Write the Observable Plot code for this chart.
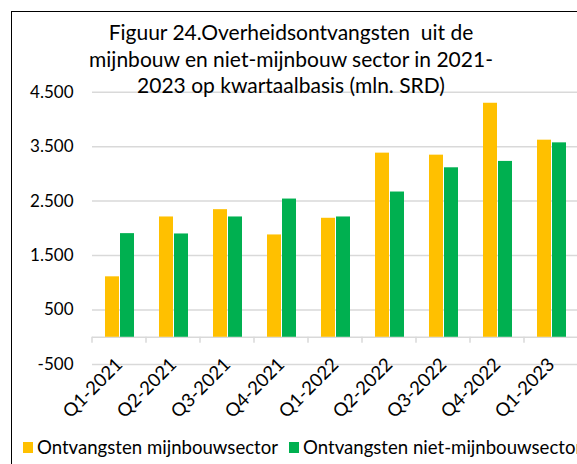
<!DOCTYPE html>
<html><head><meta charset="utf-8">
<script src="https://cdn.jsdelivr.net/npm/d3@7"></script>
<script src="https://cdn.jsdelivr.net/npm/@observablehq/plot@0.6"></script>
<style>
html,body{margin:0;padding:0;background:#fff;overflow:hidden;width:577px;height:464px;}
#wrap{position:relative;width:577px;height:464px;overflow:hidden;font-family:Lato,"Open Sans",sans-serif;color:#000;}
#border{position:absolute;left:11px;top:11px;width:640px;height:520px;border:1.5px solid #000;box-sizing:border-box;}
#chart{position:absolute;left:0;top:0;}
#title{position:absolute;left:41px;top:19px;width:500px;text-align:center;font-size:21px;line-height:26.7px;white-space:pre;}
#legend{position:absolute;left:23px;top:436px;display:flex;align-items:center;font-size:18.6px;line-height:22px;white-space:nowrap;}
.sw{display:inline-block;width:10px;height:11px;margin-right:4px;}
</style></head><body>
<div id="wrap">
<div id="border"></div>
<div id="chart"></div>
<div id="title"></div>
<div id="legend"></div>
</div>
<script>
const titleLines = ["Figuur 24.Overheidsontvangsten  uit de", "mijnbouw en niet-mijnbouw sector in 2021-", "2023 op kwartaalbasis (mln. SRD)"];
const quarters = ["Q1-2021","Q2-2021","Q3-2021","Q4-2021","Q1-2022","Q2-2022","Q3-2022","Q4-2022","Q1-2023"];
const seriesNames = ["Ontvangsten mijnbouwsector","Ontvangsten niet-mijnbouwsector"];
const mijnbouw = [1110, 2209, 2343, 1879, 2185, 3381, 3344, 4297, 3619];
const nietMijnbouw = [1903, 1897, 2209, 2538, 2209, 2667, 3112, 3229, 3570];
const yTicks = [-500, 500, 1500, 2500, 3500, 4500];
const colors = ["#FFC000", "#00B050"];

const data = [];
quarters.forEach((q, i) => {
  data.push({quarter: q, series: seriesNames[0], value: mijnbouw[i]});
  data.push({quarter: q, series: seriesNames[1], value: nietMijnbouw[i]});
});

const nl = d3.formatLocale({decimal: ",", thousands: ".", grouping: [3], currency: ["", ""], minus: "-"});
const fmt = nl.format(",d");

const W = 600, H = 464;
const plot = Plot.plot({
  width: W, height: H,
  marginLeft: 89, marginRight: 19.6, marginTop: 91.7, marginBottom: 100,
  style: {fontFamily: "Lato, 'Open Sans', sans-serif", color: "#000", background: "transparent", maxWidth: "none"},
  fx: {domain: quarters, padding: 0, label: null},
  x: {domain: seriesNames, paddingInner: 0.1, paddingOuter: 0.8, axis: null},
  y: {domain: [-500, 4500], label: null},
  color: {domain: seriesNames, range: colors},
  marks: [
    Plot.gridY(yTicks, {stroke: "#d9d9d9", strokeOpacity: 1, strokeWidth: 1.5}),
    Plot.axisY(yTicks, {tickSize: 0, tickPadding: 19, tickFormat: fmt, fontSize: 17, label: null}),
    Plot.ruleY([0], {stroke: "#d9d9d9", strokeWidth: 1.5}),
    Plot.barY(data, {fx: "quarter", x: "series", y: "value", fill: "series"}),
    Plot.axisFx({anchor: "bottom", tickSize: 0, tickPadding: -3, tickRotate: -45, fontSize: 18.5, label: null})
  ]
});
document.getElementById("chart").appendChild(plot);

// category tick marks at band boundaries hanging from the zero line
const fxs = plot.scale("fx"), ys = plot.scale("y");
const edges = quarters.map(q => fxs.apply(q)).concat([fxs.apply(quarters[quarters.length - 1]) + fxs.bandwidth]);
const y0 = ys.apply(0);
const g = d3.select(plot).append("g").attr("stroke", "#d9d9d9").attr("stroke-width", 1.5);
edges.forEach(x => g.append("line").attr("x1", x).attr("x2", x).attr("y1", y0).attr("y2", y0 + 6));

// title
document.getElementById("title").textContent = titleLines.join("\n");

// legend
const legend = document.getElementById("legend");
seriesNames.forEach((s, i) => {
  const item = document.createElement("span");
  item.style.display = "inline-flex"; item.style.alignItems = "center";
  item.style.marginRight = i === 0 ? "11px" : "0";
  item.innerHTML = `<span class="sw" style="background:${colors[i]}"></span>${s}`;
  legend.appendChild(item);
});
</script>
</body></html>
